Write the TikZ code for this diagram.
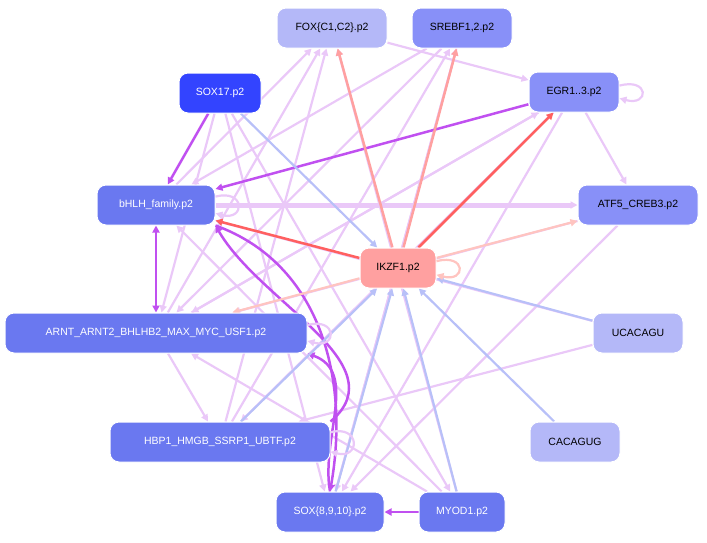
\documentclass[tikz,border=0pt]{standalone}
\usepackage{fontspec}
\setmainfont{Liberation Sans}
\usetikzlibrary{arrows.meta}
\pgfdeclarelayer{bg}
\pgfsetlayers{bg,main}
\begin{document}
\begin{tikzpicture}[x=1pt,y=-1pt,
 nd/.style={draw=white,line width=1pt,rounded corners=9pt,minimum height=40pt,font=\fontsize{10.5}{12}\selectfont,inner sep=0pt},
 dk/.style={nd,fill=#1,text=white},
 lt/.style={nd,fill=#1,text=black},
 e/.style={line width=#1,-{Triangle[length=7pt,width=7pt]}},
 lp/.style={e=2.2pt,draw=lp},
 mp/.style={e=2.5pt,draw=mp},
 lb/.style={e=2.2pt,draw=lb},
 rd/.style={e=2.5pt,draw=rd},
 sa/.style={e=2.5pt,draw=sa},
 ls/.style={e=2.2pt,draw=ls}]
\definecolor{lp}{HTML}{EAC8F8}
\definecolor{mp}{HTML}{C050F0}
\definecolor{lb}{HTML}{B8C0F8}
\definecolor{rd}{HTML}{FF6060}
\definecolor{sa}{HTML}{FFA0A0}
\definecolor{ls}{HTML}{FFC4C0}
\definecolor{c1}{HTML}{6A78F0}
\definecolor{c2}{HTML}{8890F8}
\definecolor{c3}{HTML}{B4B8F8}
\definecolor{c4}{HTML}{3344FF}
\useasboundingbox (0,0) rectangle (707,542);
\node[lt=c3,minimum width=110pt] (fox) at (332,28) {FOX\{C1,C2\}.p2};
\node[lt=c2,minimum width=100pt] (sre) at (462,28) {SREBF1,2.p2};
\node[dk=c4,minimum width=82pt] (s17) at (220,93) {SOX17.p2};
\node[lt=c2,minimum width=90pt] (egr) at (574,92) {EGR1..3.p2};
\node[dk=c1,minimum width=118pt] (bh) at (156,205) {bHLH\_family.p2};
\node[lt=c2,minimum width=120pt] (atf) at (638,205) {ATF5\_CREB3.p2};
\node[lt=sa,minimum width=76pt] (ik) at (398,268) {IKZF1.p2};
\node[dk=c1,minimum width=302pt] (ar) at (156,333) {ARNT\_ARNT2\_BHLHB2\_MAX\_MYC\_USF1.p2};
\node[lt=c3,minimum width=90pt] (uc) at (638,333) {UCACAGU};
\node[dk=c1,minimum width=220pt] (hb) at (220,442) {HBP1\_HMGB\_SSRP1\_UBTF.p2};
\node[lt=c3,minimum width=90pt] (ca) at (575,442) {CACAGUG};
\node[dk=c1,minimum width=108pt] (s8) at (330,512) {SOX\{8,9,10\}.p2};
\node[dk=c1,minimum width=86pt] (my) at (462,512) {MYOD1.p2};
\begin{pgfonlayer}{bg}
% light purple edges
\draw[lp,line width=5pt] (bh) -- (atf);
\draw[lp] (egr) -- (atf);
\draw[lp] (egr) -- (ar);
\draw[lp] (egr) -- (hb);
\draw[lp] (sre) -- (bh);
\draw[lp] (sre) -- (ar);
\draw[lp] (sre) -- (s8);
\draw[lp] (egr) -- (s8);
\draw[lp] (s17) -- (s8);
\draw[lp] (s17) -- (ar);
\draw[lp] (s17) -- (my);
\draw[lp] (bh) -- (fox);
\draw[lp] (ar) -- (fox);
\draw[lp] (hb) -- (fox);
\draw[lp] (s8) -- (sre);
\draw[lp] (hb) -- (sre);
\draw[lp] (ar) -- (egr);
\draw[lp] (fox) -- (egr);
\draw[lp] (atf) -- (ar);
\draw[lp] (uc) -- (bh);
\draw[lp] (uc) -- (hb);
\draw[lp] (atf) -- (s8);
\draw[lp] (my) -- (ar);
\draw[lp] (my) -- (fox);
\draw[lp] (my) -- (bh);
\draw[lp] (ar) -- (hb);
% medium purple
\draw[mp] (s17) -- (bh);
\draw[mp] (egr) -- (bh);
\draw[mp,{Triangle[length=7pt,width=7pt]}-{Triangle[length=7pt,width=7pt]}] (bh) -- (ar);
\draw[mp] (my) -- (s8);
\draw[mp] (bh.south east) to[out=-20,in=80] (s8.north);
\draw[mp] (s8.north) to[out=100,in=-20] (ar.south east);
\draw[mp] (hb.north east) to[out=40,in=-60] (bh.south east);
% light blue into IKZF1
\draw[lb] (s17) -- (ik);
\draw[lb] (uc) -- (ik);
\draw[lb] (ca) -- (ik);
\draw[lb] (my) -- (ik);
\draw[lb] (s8) -- (ik);
\draw[lb] (hb) -- (ik);
% from IKZF1
\draw[rd] (ik) -- (egr);
\draw[rd] (ik) -- (bh);
\draw[sa] (ik) -- (fox);
\draw[sa] (ik) -- (sre);
\draw[ls] (ik) -- (atf);
\draw[ls] (ik) -- (ar);
\end{pgfonlayer}
% self loops
\draw[lp] (egr.8) .. controls +(30,-8) and +(30,8) .. (egr.-8);
\draw[lp] (bh.8) .. controls +(30,-8) and +(30,8) .. (bh.-8);
\draw[lp] (ar.3) .. controls +(30,-8) and +(30,8) .. (ar.-3);
\draw[lp] (hb.5) .. controls +(30,-8) and +(30,8) .. (hb.-5);
\draw[ls] (ik.10) .. controls +(30,-8) and +(30,8) .. (ik.-10);
\end{tikzpicture}
\end{document}
